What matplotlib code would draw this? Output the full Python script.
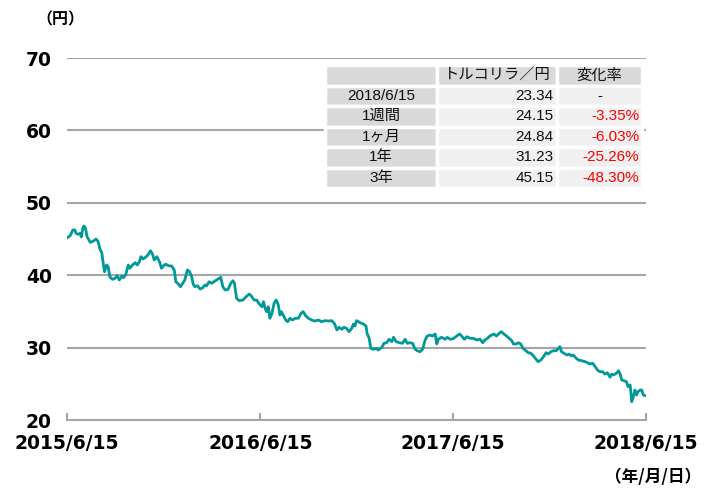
import numpy as np
import pandas as pd
import matplotlib
matplotlib.use("Agg")
import matplotlib.pyplot as plt

# TRY/JPY (days after 2015/6/15, rate)
start = pd.Timestamp("2015-06-15")
days = [0, 6, 11, 15, 17, 21, 25, 27, 30, 32, 35, 38, 44, 50, 55, 59, 62, 66, 69, 71,
        75, 78, 81, 86, 91, 95, 99, 104, 107, 111, 116, 119, 124, 129, 133, 137, 140, 144, 150, 154,
        158, 162, 165, 170, 175, 179, 184, 187, 192, 198, 203, 206, 211, 215, 219, 223, 228, 232, 236, 239,
        242, 247, 252, 257, 261, 264, 269, 274, 278, 283, 288, 291, 295, 299, 305, 310, 314, 317, 321, 326,
        333, 339, 345, 350, 354, 359, 364, 369, 372, 375, 378, 381, 384, 388, 392, 396, 400, 403, 406, 409,
        415, 418, 422, 427, 432, 438, 443, 447, 452, 457, 463, 469, 476, 482, 488, 495, 501, 506, 511, 515,
        520, 524, 529, 534, 539, 542, 545, 548, 555, 561, 566, 568, 572, 575, 580, 586, 589, 596, 600, 605,
        610, 615, 618, 623, 629, 635, 640, 644, 649, 654, 659, 663, 668, 673, 678, 682, 687, 692, 697, 700,
        703, 709, 716, 720, 725, 731, 738, 743, 747, 752, 757, 763, 769, 776, 782, 787, 791, 796, 799, 804,
        808, 813, 818, 822, 827, 832, 837, 842, 845, 850, 854, 859, 863, 867, 873, 878, 883, 888, 892, 897,
        902, 907, 911, 916, 921, 926, 930, 933, 936, 941, 946, 951, 955, 958, 964, 968, 974, 981, 985, 990,
        995, 1000, 1004, 1009, 1014, 1018, 1023, 1028, 1031, 1035, 1041, 1044, 1047, 1050, 1054, 1059, 1062, 1066, 1069, 1072,
        1075, 1078, 1081, 1085, 1088, 1091, 1096]
rate = [45.15, 45.46, 46.24, 46.24, 45.79, 45.65, 45.79, 45.28, 46.48, 46.80, 46.48, 45.32, 44.54, 44.72, 45.00, 44.63, 43.72, 43.03, 41.41, 40.48,
        41.41, 41.17, 39.79, 39.43, 39.57, 39.93, 39.34, 39.89, 39.66, 40.03, 41.41, 40.95, 41.41, 41.73, 41.41, 41.87, 42.56, 42.24, 42.56, 42.89,
        43.38, 42.89, 42.10, 42.56, 41.87, 40.95, 41.41, 41.51, 41.31, 41.27, 40.72, 39.10, 38.78, 38.41, 38.88, 39.34, 40.72, 40.48, 39.79, 38.74,
        38.41, 38.55, 38.09, 38.27, 38.65, 38.51, 39.10, 38.88, 39.10, 39.34, 39.57, 39.71, 38.41, 37.96, 38.05, 38.88, 39.24, 38.88, 36.81, 36.48,
        36.57, 37.03, 37.40, 37.03, 36.57, 36.57, 36.02, 35.65, 36.34, 35.43, 34.96, 35.65, 34.05, 34.74, 36.12, 36.57, 35.88, 34.50, 34.96, 34.50,
        33.72, 33.58, 34.05, 33.81, 34.05, 34.05, 34.74, 34.96, 34.37, 34.05, 33.81, 33.67, 33.81, 33.58, 33.72, 33.67, 33.72, 33.36, 32.43, 32.80,
        32.53, 32.80, 32.67, 32.20, 32.67, 33.26, 32.98, 33.72, 33.44, 33.26, 32.98, 31.98, 31.28, 29.90, 29.77, 29.90, 29.67, 30.04, 30.59, 30.68,
        31.15, 30.82, 31.42, 30.82, 30.68, 30.59, 31.15, 30.59, 30.68, 30.59, 29.77, 29.57, 29.43, 29.77, 31.05, 31.60, 31.74, 31.60, 31.88, 30.50,
        31.15, 31.42, 31.15, 31.42, 31.15, 31.23, 31.60, 31.88, 31.60, 31.15, 31.51, 31.28, 31.28, 31.05, 31.15, 30.68, 31.05, 31.28, 31.51, 31.74,
        31.88, 31.60, 31.98, 32.20, 31.88, 31.60, 31.28, 30.95, 30.50, 30.50, 30.68, 30.50, 29.90, 29.67, 29.30, 29.21, 28.84, 28.38, 28.05, 28.29,
        28.74, 29.30, 29.12, 29.43, 29.57, 29.57, 29.90, 30.13, 29.43, 29.21, 28.98, 29.07, 28.84, 28.98, 28.52, 28.29, 28.19, 28.05, 27.91, 27.74,
        27.83, 27.36, 26.91, 26.67, 26.67, 26.35, 26.53, 25.90, 26.35, 26.22, 26.53, 26.81, 26.35, 25.53, 25.43, 25.29, 24.60, 24.84, 22.53, 23.22,
        24.14, 23.45, 23.91, 24.15, 24.14, 23.45, 23.34]

tick_labels = ["2015/6/15", "2016/6/15", "2017/6/15", "2018/6/15"]
yticks = [20, 30, 40, 50, 60, 70]

# summary table
tbl_header = ["", "トルコリラ／円", "変化率"]
tbl_rows = ["2018/6/15", "1週間", "1ヶ月", "1年", "3年"]
tbl_price = ["23.34", "24.15", "24.84", "31.23", "45.15"]
tbl_change = ["-", "-3.35%", "-6.03%", "-25.26%", "-48.30%"]

plt.rcParams["font.family"] = ["Noto Sans CJK JP", "DejaVu Sans"]
table_font = ["Liberation Sans", "Noto Sans CJK JP"]

dates = [start + pd.Timedelta(days=d) for d in days]

fig = plt.figure(figsize=(7.13, 4.88), dpi=100)
ax = fig.add_axes([67 / 713, 1 - 420 / 488, 579 / 713, 362 / 488])
ax.plot(dates, rate, color="#009999", lw=2, zorder=3)

ax.set_xlim(pd.Timestamp("2015-06-15"), pd.Timestamp("2018-06-15"))
ax.set_ylim(20, 70)
ax.set_xticks([pd.Timestamp(t.replace("/", "-")) for t in tick_labels])
ax.set_xticklabels(tick_labels, fontfamily="DejaVu Sans", fontweight="bold", fontsize=13.5)
ax.set_yticks(yticks)
ax.set_yticklabels([str(v) for v in yticks], fontfamily="DejaVu Sans", fontweight="bold", fontsize=13.5)
ax.tick_params(axis="y", length=0, pad=11)
ax.tick_params(axis="x", direction="in", length=5, color="#a6a6a6", width=1.5, pad=10)
for v in yticks[1:]:
    ax.axhline(v, color="#a6a6a6", lw=1.5, zorder=1)
for s in ["left", "right", "top"]:
    ax.spines[s].set_visible(False)
ax.spines["bottom"].set_color("#a6a6a6")
ax.spines["bottom"].set_linewidth(1.5)

fig.text(36 / 713, 1 - 19 / 488, "（円）", fontsize=11.5, fontweight="bold", va="center", ha="left")
fig.text(701 / 713, 1 - 477 / 488, "（年/月/日）", fontsize=12, fontweight="bold", va="center", ha="right")

# table
tax = fig.add_axes([325 / 713, 1 - 188 / 488, 317 / 713, 123 / 488])
tax.axis("off")
cells = [tbl_header] + [[r, p, c] for r, p, c in zip(tbl_rows, tbl_price, tbl_change)]
colours = [["#d9d9d9"] * 3] + [["#d9d9d9", "#f0f0f0", "#f0f0f0"] for _ in tbl_rows]
table = tax.table(cellText=cells, cellColours=colours, bbox=[0, 0, 1, 1],
                  colWidths=[112, 120, 85])
table.auto_set_font_size(False)
for (i, j), cell in table.get_celld().items():
    cell.set_edgecolor("white")
    cell.set_linewidth(2.5)
    txt = cell.get_text()
    txt.set_fontsize(11)
    txt.set_fontfamily(table_font)
    txt.set_color("#111111")
    if i == 0 or j == 0:
        cell._loc = "center"
        txt.set_ha("center")
    else:
        cell._loc = "right"
        txt.set_ha("right")
        cell.PAD = 0.03
    if i > 0 and j == 2:
        if tbl_change[i - 1].startswith("-") and len(tbl_change[i - 1]) > 1:
            txt.set_color("#ff0000")
        else:
            cell._loc = "center"
            txt.set_ha("center")

fig.savefig("out.png", dpi=100)
